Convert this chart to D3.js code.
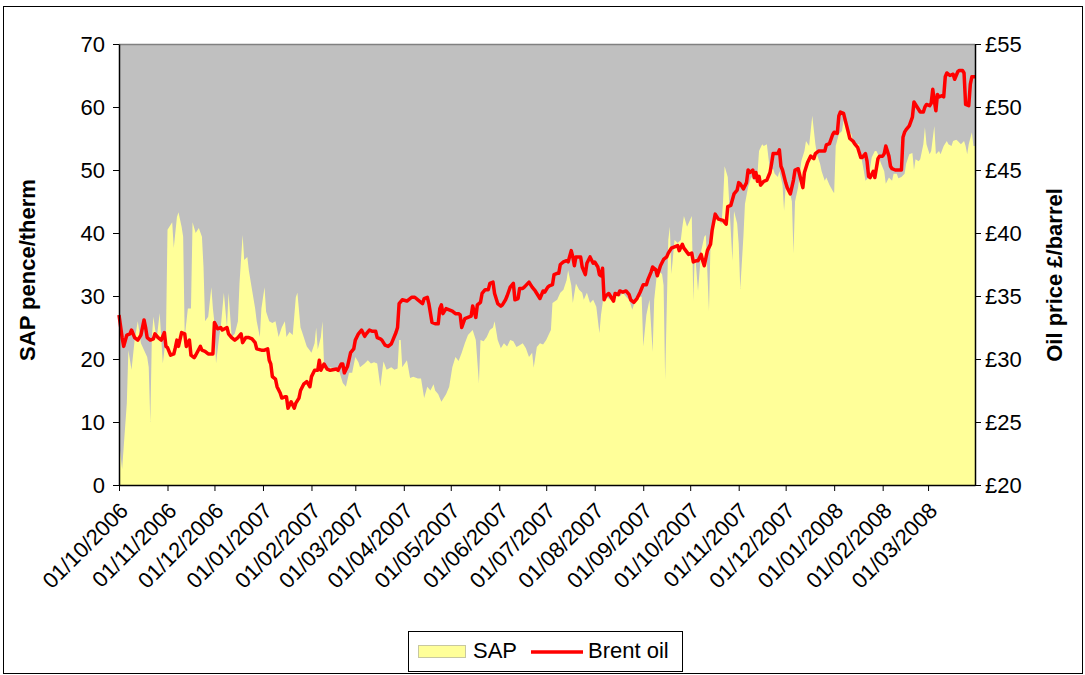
<!DOCTYPE html>
<html>
<head>
<meta charset="utf-8">
<script src="https://cdn.jsdelivr.net/npm/d3@7"></script>
<style>
  body { margin: 0; background: #fff; }
  svg text { font-family: "Liberation Sans", Arial, sans-serif; }
</style>
</head>
<body>
<svg id="chart" width="1085" height="675"></svg>
<script>
// days counted from 01/10/2006
var startDate = new Date(2006, 9, 1);
var endDate = new Date(2008, 2, 31);

var sapDay = [0,2,5,6,8,10,12,14,18,19,20,21,22,24,26,28,30,31,34,35,37,38,40,41,42,44,46,47,49,51,53,54,55,57,59,60,61,62,64,65,67,69,70,72,74,76,77,79,80,82,83,85,87,88,90,91,93,94,96,98,100,102,104,106,107,109,111,113,114,116,117,120,123,125,126,127,129,130,131,133,135,
  139,141,143,145,147,149,151,153,154,157,159,161,163,165,167,169,171,174,176,178,179,180,181,184,186,188,191,193,195,197,199,201,202,204,206,209,211,213,215,217,219,221,223,226,228,230,231,233,235,237,239,240,242,244,246,248,250,252,254,256,258,260,262,264,265,267,269,271,273,275,276,277,280,282,284,286,287,289,290,292,294,296,297,299,301,303,305,307,308,310,311,314,316,318,320,322,324,326,328,330,332,334,335,337,339,341,342,344,347,348,349,351,352,353,355,357,359,360,361,363,366,367,368,370,372,374,375,377,378,380,383,385,386,387,389,390,392,393,395,396,397,399,400,402,404,406,408,409,411,412,
  414,416,418,419,421,422,424,425,426,428,430,431,432,434,436,438,439,441,442,443,445,446,448,449,451,452,454,456,457,458,460,462,463,465,466,468,469,471,473,474,476,477,479,481,483,484,485,487,489,490,492,494,495,497,498,500,502,503,505,507,508,509,511,512,514,515,516,518,519,521,522,524,525,527,529,530,532,533,535,536,538,540,541,542,543,545,546,547];
var sapValue = [7,2.5,13,21.4,18.3,23,26,22.5,20.3,18.7,10,23.5,26.7,23,27.3,19.3,23.5,40.5,41.7,37.6,42.5,43.3,41,39.4,23.5,28,28,41.7,40,40.8,39.4,34.6,26,26.7,31.4,28,25.7,19.3,23.5,25,30.5,25,30.5,23.5,24,26,32,39.7,35.7,36.2,34,31,28,26,23.5,28,31.4,27.5,26,25.7,26,23.5,25,26,23.5,24.3,23.8,29.8,30.5,25,24.3,22,21,22.5,25,21.5,23.5,26,19.3,18.3,18.7,
  18.3,17.8,16.2,15.6,17.8,17.8,20.3,19.5,18.7,19.3,19.8,19.3,19.5,19.3,15.6,19.6,18.3,18.7,18.3,18.5,23,23,18.7,19.8,17,17.2,16.9,16.9,13.8,15.6,15,16,15,14.4,13.2,14.4,15.6,18.7,20.3,19.7,21,22.5,23.8,24.6,23,16.2,23,22.8,23.5,24.6,25,26,23,21.7,22.5,22,23,22.8,21.9,22.2,22.5,21.7,20.3,21,18.6,21.9,22.5,22.3,23,24.1,24.6,28.9,29.4,30.5,31,32.5,34.1,31.7,28.9,32,31,30.5,29.4,30.5,28.9,29.4,28.3,24.1,27,30.5,29.9,29.4,29.6,30.5,29.9,30.5,29.9,29.4,27.8,29.4,29.9,29.9,22,27,29.4,21.1,29.4,34.1,33.5,31.7,16.7,38.9,41,33.5,38.9,38.4,38.9,41,42.7,41,42.7,29.2,37.1,30.8,37.1,39.4,39.7,27.6,38.3,42.5,42.3,41.4,45,50.6,48.9,44.6,35.6,43.5,41.5,38.3,31.1,39.4,44.6,47.3,48.9,48.3,49.4,53,54.1,53.8,
  54.1,49.8,50.2,49.4,48.9,49.8,47.6,43.5,47.3,47.3,45,36.7,45,47.3,51.4,53,54.6,53.8,56.2,58.6,54.1,52.5,51,49.8,48.3,48.8,47.6,46.7,46.3,53.8,55.7,56.2,57.8,56.7,56.2,55.7,54.6,54.1,54.1,52.5,49.8,48.3,48.8,52,53,53,52.5,51,49.8,47.8,48.8,48.3,49.4,49.4,48.7,48.9,49.4,51,52.5,52.7,50,51.7,51.4,51.7,54.1,56.8,54.1,52.5,53,57,52.5,53,52.5,53.8,54.6,54.1,53.8,54.6,54.8,54.6,54.1,54.6,53.8,52.5,54.1,56,53.8,53.8];

var brentDay = [0,2,3,5,7,8,10,12,14,16,17,18,20,22,23,25,27,29,30,31,33,35,36,37,38,40,42,43,45,46,48,49,52,53,55,57,60,61,63,65,66,69,70,72,74,76,78,79,81,83,85,87,88,91,93,95,96,97,98,100,101,103,104,106,107,108,110,112,113,115,116,118,120,122,123,125,127,128,129,131,133,135,
  139,140,142,143,144,146,148,150,151,153,155,157,158,160,162,164,165,167,168,170,172,174,175,177,178,179,181,184,187,189,191,194,195,197,198,200,202,204,205,206,207,209,211,213,215,217,218,219,221,223,225,226,228,229,231,232,234,236,237,239,240,242,244,245,247,248,250,252,253,255,256,258,259,262,264,266,267,269,271,272,274,275,277,278,280,281,282,284,286,287,289,290,291,292,293,295,296,298,299,301,303,304,306,307,308,309,310,311,313,315,316,317,319,320,322,324,326,327,329,331,333,335,337,338,340,341,343,344,346,348,350,351,353,355,357,358,360,361,364,366,367,369,370,372,373,374,376,378,379,381,383,386,388,389,391,393,395,396,397,399,401,402,403,405,406,407,408,409,410,412,
  414,416,417,418,421,422,423,424,426,427,429,431,432,434,435,437,438,440,442,444,445,447,449,451,452,454,456,457,459,460,461,463,464,466,467,469,470,472,474,475,477,478,479,480,482,483,485,486,488,489,490,492,493,494,496,498,500,501,502,503,505,507,508,510,512,514,515,516,518,519,520,521,522,523,524,526,527,528,529,531,533,534,536,537,539,540,541,543,544,545,547];
var brentValue = [33.5,31.7,31.0,31.9,32,32.3,31.7,31.5,31.9,33.1,32.5,31.7,31.5,31.6,32,31.7,31.5,32.1,31.0,30.9,30.3,30.4,30.9,31.5,31.0,32.1,32.0,31.0,31.5,30.3,30.1,30.3,31.0,30.7,30.6,30.4,30.4,32.9,32.4,32.5,32.3,32.5,32.0,31.7,31.5,31.7,32,31.3,31.7,31.7,31.6,31.3,30.8,30.7,30.7,30.8,29.9,29.6,28.6,28.4,27.8,27.3,26.9,27.0,27.0,26.1,26.6,26.1,26.5,26.9,27.5,28.0,28.2,27.8,28.6,29.1,29.1,29.9,29.1,29.6,29.2,29.1,
  29.2,29.1,29.6,29.6,28.9,29.4,30.5,30.8,31.5,32.0,32.3,31.8,32.0,32.3,32.2,32.2,31.7,31.6,31.5,31.1,31.0,31.2,31.5,32.1,32.5,34.4,34.7,34.6,34.9,34.9,34.7,34.4,34.8,34.9,34.4,32.9,32.8,32.8,34.0,34.3,33.6,34.0,33.9,33.8,33.6,33.6,33.5,32.5,33.2,33.3,33.4,34.2,33.3,34.3,34.5,35.2,35.5,35.5,36.0,36.1,35.2,34.4,34.2,34.3,34.7,35.0,35.7,36.0,34.7,34.8,35.6,35.6,35.7,36.1,35.7,35.4,35.2,34.8,35.4,35.3,35.7,35.8,35.9,36.7,36.8,36.8,37.5,37.7,37.8,37.7,38.6,38.1,37.4,38.1,38.1,38.1,37.3,36.7,37.6,38.1,37.6,37.7,37.3,36.7,36.6,37.2,34.7,35.0,35.2,34.8,34.6,35.2,35.1,35.4,35.3,35.4,35.1,34.7,34.5,34.8,35.3,35.9,35.9,36.3,36.9,37.3,37.1,36.6,37.4,37.9,38.1,38.4,38.8,38.9,39.0,38.6,39.1,38.8,38.3,38.4,37.7,37.8,37.8,38.3,37.8,37.4,38.6,39.1,40.2,41.5,41.1,41.0,40.7,42.1,42.2,43.1,43.4,44.0,43.9,43.5,44.0,45.0,44.8,45.0,44.4,44.8,44.1,44.5,43.8,44.1,
  44.2,44.8,45.5,46.3,46.3,46.6,45.3,45.0,44.0,43.6,43.1,44.2,45.0,45.1,44.6,43.6,44.8,45.6,46.1,45.9,46.3,46.5,46.5,46.5,47.0,47.1,47.8,48.0,47.9,49.3,49.6,49.5,49.0,48.0,47.5,47.3,47.1,46.8,46.0,46.0,46.3,45.7,44.5,44.4,44.9,44.4,45.9,46.1,46.1,46.3,46.9,46.1,45.3,45.1,45.0,45.0,45.0,47.6,48.0,48.2,48.5,49.2,50.4,50.0,49.6,49.6,50.0,50.2,50.1,50.3,51.4,50.5,49.7,51.0,50.8,50.9,50.8,52.4,52.7,52.5,52.6,52.2,52.8,52.9,52.9,52.7,50.2,50.1,51.8,52.4,52.4];

var sapTicks = [0, 10, 20, 30, 40, 50, 60, 70];
var oilTicks = [20, 25, 30, 35, 40, 45, 50, 55];

var plotLeft = 119, plotRight = 975, plotTop = 44, plotBottom = 485;
var sapYellow = "#FFFF99", plotGrey = "#C0C0C0", oilRed = "#FF0000";

var svg = d3.select("#chart");

svg.append("rect")
  .attr("x", 3.5).attr("y", 6.5)
  .attr("width", 1079).attr("height", 667)
  .attr("fill", "#fff").attr("stroke", "#000").attr("stroke-width", 1);

var x = d3.scaleTime().domain([startDate, endDate]).range([plotLeft, plotRight]);
var ySap = d3.scaleLinear().domain([0, 70]).range([plotBottom, plotTop]);
var yOil = d3.scaleLinear().domain([20, 55]).range([plotBottom, plotTop]);

function dayToDate(d) { return d3.timeDay.offset(startDate, d); }

var sapData = sapDay.map(function(d, i) { return { date: dayToDate(d), v: sapValue[i] }; });
var oilData = brentDay.map(function(d, i) { return { date: dayToDate(d), v: brentValue[i] }; });

// plot background
svg.append("rect")
  .attr("x", plotLeft).attr("y", plotTop)
  .attr("width", plotRight - plotLeft).attr("height", plotBottom - plotTop)
  .attr("fill", plotGrey);

var area = d3.area()
  .x(function(d) { return x(d.date); })
  .y0(plotBottom)
  .y1(function(d) { return ySap(d.v); });

svg.append("path")
  .datum(sapData)
  .attr("d", area)
  .attr("fill", sapYellow);

// plot border
svg.append("line")
  .attr("x1", plotLeft).attr("x2", plotRight).attr("y1", plotTop + 0.5).attr("y2", plotTop + 0.5)
  .attr("stroke", "#808080").attr("stroke-width", 1.5);

var line = d3.line()
  .x(function(d) { return x(d.date); })
  .y(function(d) { return yOil(d.v); });

svg.append("path")
  .datum(oilData)
  .attr("d", line)
  .attr("fill", "none")
  .attr("stroke", oilRed)
  .attr("stroke-width", 3.5)
  .attr("stroke-linejoin", "round");

// axes
var axisFont = 22;

var yAxisL = svg.append("g")
  .attr("transform", "translate(" + plotLeft + ",0)")
  .call(d3.axisLeft(ySap).tickValues(sapTicks).tickSize(6).tickSizeOuter(0).tickPadding(8));

var yAxisR = svg.append("g")
  .attr("transform", "translate(" + plotRight + ",0)")
  .call(d3.axisRight(yOil).tickValues(oilTicks).tickSize(6).tickSizeOuter(0).tickPadding(4)
    .tickFormat(function(d) { return "\u00A3" + d; }));

var xAxis = svg.append("g")
  .attr("transform", "translate(0," + plotBottom + ")")
  .call(d3.axisBottom(x).ticks(d3.timeMonth.every(1)).tickSize(6).tickSizeOuter(0)
    .tickFormat(d3.timeFormat("%d/%m/%Y")));

xAxis.selectAll("text")
  .attr("x", 0).attr("y", 0).attr("dy", 0)
  .attr("text-anchor", "end")
  .attr("transform", "translate(10,27) rotate(-45)");

[yAxisL, yAxisR, xAxis].forEach(function(g) {
  g.selectAll("text").attr("font-size", axisFont).attr("fill", "#000")
    .style("font-family", "'Liberation Sans', Arial, sans-serif");
  g.selectAll("line").attr("stroke", "#000");
  g.select(".domain").attr("stroke", "#000").attr("stroke-width", 1.5);
});

// axis titles
svg.append("text")
  .attr("transform", "translate(35,270) rotate(-90)")
  .attr("text-anchor", "middle")
  .attr("font-size", 22).attr("font-weight", "bold")
  .text("SAP pence/therm");

svg.append("text")
  .attr("transform", "translate(1062,275) rotate(-90)")
  .attr("text-anchor", "middle")
  .attr("font-size", 22).attr("font-weight", "bold")
  .text("Oil price \u00A3/barrel");

// legend
var legend = svg.append("g");
legend.append("rect")
  .attr("x", 408.5).attr("y", 631.5).attr("width", 274).attr("height", 40)
  .attr("fill", "#fff").attr("stroke", "#000");
legend.append("rect")
  .attr("x", 418.5).attr("y", 645.5).attr("width", 47).attr("height", 12)
  .attr("fill", sapYellow).attr("stroke", "#c8c8a0");
legend.append("text")
  .attr("x", 473).attr("y", 658).attr("font-size", 22).text("SAP");
legend.append("line")
  .attr("x1", 531).attr("x2", 583).attr("y1", 652).attr("y2", 652)
  .attr("stroke", oilRed).attr("stroke-width", 3.5);
legend.append("text")
  .attr("x", 588).attr("y", 658).attr("font-size", 22).text("Brent oil");
</script>
</body>
</html>
